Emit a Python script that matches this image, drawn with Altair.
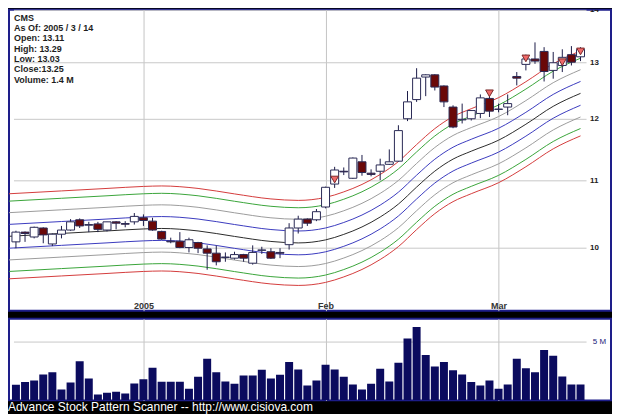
import altair as alt
import pandas as pd

# ---------------- data ----------------
day_index = list(range(63))
opens = [10.09, 10.23, 10.16, 10.29, 10.06, 10.20, 10.26, 10.41, 10.33, 10.35,
         10.26, 10.38, 10.355, 10.38, 10.44, 10.39, 10.24, 10.10, 10.10, 10.01,
         10.08, 9.99, 9.93, 9.87, 9.86, 9.91, 9.79, 9.97, 9.95, 9.94,
         10.05, 10.29, 10.42, 10.41, 10.60, 10.95, 11.15, 11.04, 11.30, 11.12,
         11.15, 11.26, 11.31, 12.01, 12.34, 12.74, 12.78, 12.58, 12.21, 11.99,
         12.01, 12.10, 12.36, 12.17, 12.21, 12.75, 12.97, 13.07, 13.21, 12.86,
         12.95, 13.15, 13.11]
highs = [10.25, 10.24, 10.31, 10.30, 10.21, 10.32, 10.42, 10.43, 10.38, 10.38,
         10.38, 10.39, 10.39, 10.51, 10.49, 10.44, 10.25, 10.15, 10.23, 10.15,
         10.09, 10.04, 10.04, 9.94, 9.95, 9.92, 10.04, 10.02, 10.00, 10.00,
         10.36, 10.47, 10.43, 10.57, 10.91, 11.22, 11.21, 11.37, 11.41, 11.18,
         11.35, 11.50, 11.90, 12.49, 12.90, 12.79, 12.79, 12.59, 12.24, 12.27,
         12.16, 12.43, 12.45, 12.27, 12.43, 12.83, 13.15, 13.38, 13.29, 13.20,
         13.25, 13.31, 13.29]
lows = [10.00, 10.09, 10.14, 10.07, 10.03, 10.14, 10.25, 10.29, 10.23, 10.23,
        10.24, 10.27, 10.30, 10.34, 10.32, 10.25, 10.12, 10.07, 10.00, 9.94,
        9.93, 9.70, 9.76, 9.81, 9.84, 9.81, 9.77, 9.92, 9.85, 9.86,
        9.98, 10.21, 10.32, 10.39, 10.58, 10.89, 11.09, 11.03, 11.08, 11.07,
        11.01, 11.25, 11.30, 11.97, 12.30, 12.40, 12.50, 12.21, 11.85, 11.93,
        11.98, 12.02, 12.04, 12.12, 12.07, 12.59, 12.86, 12.98, 12.66, 12.71,
        12.83, 12.95, 13.03]
closes = [10.23, 10.21, 10.30, 10.19, 10.20, 10.26, 10.38, 10.32, 10.34, 10.27,
          10.38, 10.36, 10.345, 10.46, 10.40, 10.26, 10.13, 10.09, 10.01, 10.12,
          10.00, 9.93, 9.81, 9.875, 9.91, 9.86, 9.94, 9.975, 9.86, 9.93,
          10.29, 10.42, 10.36, 10.53, 10.90, 11.17, 11.14, 11.36, 11.13, 11.10,
          11.25, 11.30, 11.81, 12.30, 12.72, 12.78, 12.56, 12.30, 11.87, 12.00,
          12.15, 12.37, 12.14, 12.175, 12.27, 12.72, 13.07, 13.03, 12.84, 13.00,
          13.10, 13.01, 13.25]
volumes = [1.34, 1.57, 1.71, 2.22, 2.42, 0.94, 1.54, 3.36, 1.88, 0.51,
           0.66, 0.74, 0.60, 1.45, 1.82, 2.79, 1.60, 1.60, 1.60, 1.00,
           2.02, 3.56, 2.42, 1.62, 1.42, 2.14, 2.14, 2.62, 1.88, 2.19,
           3.30, 2.65, 1.28, 1.71, 3.05, 2.65, 2.02, 1.37, 0.94, 1.42,
           2.71, 1.62, 3.22, 5.30, 6.30, 3.90, 2.91, 3.30, 2.59, 2.22,
           1.57, 1.28, 1.71, 1.00, 1.37, 3.56, 2.76, 2.42, 4.33, 3.82,
           2.05, 1.37, 1.37]

signal_idx = [35, 52, 56, 60, 62]
signal_price = [11.02, 12.45, 13.08, 13.01, 13.21]

ma_idx = [-1, 5, 10, 14, 16, 20, 24, 28, 31, 34, 36, 38, 40, 42, 44, 46, 48, 50, 53, 56, 59, 62]
ma_center = [10.168, 10.211, 10.247, 10.276, 10.283, 10.247, 10.168, 10.096, 10.075, 10.118,
             10.197, 10.305, 10.451, 10.644, 10.903, 11.152, 11.343, 11.471, 11.651, 11.917,
             12.223, 12.449]
band_pct = [1.7, 3.4, 5.1, 6.2]
band_names = ["blue", "gray", "green", "red"]
band_colors = ["#3b3bbf", "#9c9c9c", "#3aa53a", "#d43c3c"]

price_ticks = [10, 11, 12, 13, 14]
month_idx = [14, 34, 53]
month_labels = ["2005", "Feb", "Mar"]
vol_ticks = [5]
vol_labels = ["5 M"]

info_lines = ["CMS", "As Of: 2005 / 3 / 14", "Open: 13.11", "High: 13.29",
              "Low: 13.03", "Close:13.25", "Volume: 1.4 M"]
footer = "Advance Stock Pattern Scanner -- http://www.cisiova.com"

# ---------------- tables ----------------
candles = pd.DataFrame({"i": day_index, "open": opens, "high": highs,
                        "low": lows, "close": closes, "volume": volumes})
signals = pd.DataFrame({"i": signal_idx, "p": signal_price})

rows = []
for k, c in zip(ma_idx, ma_center):
    rows.append({"i": k, "v": c, "line": "center"})
    for name, pct in zip(band_names, band_pct):
        rows.append({"i": k, "v": c * (1 + pct / 100), "line": name + "_up"})
        rows.append({"i": k, "v": c / (1 + pct / 100), "line": name + "_dn"})
bands = pd.DataFrame(rows)
line_domain = ["center"] + [n + s for n in band_names for s in ("_up", "_dn")]
line_range = ["#2b2b2b"] + [col for col in band_colors for _ in (0, 1)]

ticks_df = pd.DataFrame({"p": price_ticks})
vol_df = pd.DataFrame({"v": vol_ticks, "t": vol_labels})
info_df = pd.DataFrame({"t": ["\n".join(info_lines)]})

# ---------------- scales / axes ----------------
X_LO, X_HI = -0.215, 64.8
GRID_END = 62.66
LABEL_X = 63.05
xs = alt.Scale(domain=[X_LO, X_HI], nice=False, zero=False)
ys = alt.Scale(type="log", domain=[9.154, 14.014], nice=False)
vs = alt.Scale(domain=[0, 7.01], nice=False, zero=True)

label_expr = " : ".join(
    f"datum.value == {v} ? '{t}'" for v, t in zip(month_idx, month_labels)) + " : ''"
x_axis = alt.Axis(values=month_idx, labelExpr=label_expr, grid=True, gridColor="#c4c4c4",
                  gridWidth=1, ticks=False, tickSize=0, domain=False, title=None,
                  labelPadding=-9, labelFontSize=9, labelFontWeight="bold",
                  labelColor="#333333", labelFont="Liberation Sans")
v_axis = alt.Axis(values=month_idx, grid=True, gridColor="#c4c4c4", gridWidth=1,
                  ticks=False, tickSize=0, domain=False, labels=False, title=None)


def X(field):
    return alt.X(field, type="quantitative", scale=xs, axis=x_axis)


W = 604
base = alt.Chart(candles)

hgrid = alt.Chart(ticks_df).transform_calculate(
    x0=str(X_LO), x1=str(GRID_END)
).mark_rule(color="#c8c8c8", strokeWidth=1).encode(
    x=X("x0"), x2="x1:Q", y=alt.Y("p:Q", scale=ys, axis=None))

ylabels = alt.Chart(ticks_df).transform_calculate(lx=str(LABEL_X)).mark_text(
    align="left", baseline="middle", fontSize=8, fontWeight="bold",
    color="#222222", font="Liberation Sans", clip=True
).encode(x=X("lx"), y=alt.Y("p:Q", scale=ys, axis=None), text="p:Q")

lines = alt.Chart(bands).mark_line(strokeWidth=1, clip=True, interpolate="monotone").encode(
    x=X("i"), y=alt.Y("v:Q", scale=ys, axis=None),
    color=alt.Color("line:N", scale=alt.Scale(domain=line_domain, range=line_range), legend=None),
    order=alt.Order("i:Q"))

wicks = base.mark_rule(color="#1c1c48", strokeWidth=1, clip=True).encode(
    x=X("i"), y=alt.Y("low:Q", scale=ys, axis=None), y2="high:Q")

bodies = base.mark_bar(size=8, stroke="#2a2a55", strokeWidth=1, clip=True).encode(
    x=X("i"), y=alt.Y("open:Q", scale=ys, axis=None), y2="close:Q",
    fill=alt.condition("datum.close >= datum.open", alt.value("white"), alt.value("#6a0808")))

marks = alt.Chart(signals).mark_point(shape="triangle-down", filled=True, size=60,
                                      fill="#f06a6a", stroke="#7a2a2a", strokeWidth=1,
                                      opacity=1).encode(
    x=X("i"), y=alt.Y("p:Q", scale=ys, axis=None))

info = alt.Chart(info_df).mark_text(
    align="left", baseline="top", lineBreak="\n", lineHeight=10.4, fontSize=9,
    fontWeight="bold", color="#1e1e1e", font="Liberation Sans"
).encode(x=alt.value(5), y=alt.value(4), text="t:N")

main = alt.layer(hgrid, lines, wicks, bodies, marks, ylabels, info).properties(
    width=W, height=302)

vbars = base.mark_bar(size=8, color="#0b0b5e", clip=True).encode(
    x=alt.X("i:Q", scale=xs, axis=v_axis),
    y=alt.Y("volume:Q", scale=vs, axis=None))

vgrid = alt.Chart(vol_df).transform_calculate(
    x0=str(X_LO), x1=str(GRID_END)
).mark_rule(color="#c8c8c8", strokeWidth=1).encode(
    x=alt.X("x0:Q", scale=xs, axis=v_axis), x2="x1:Q",
    y=alt.Y("v:Q", scale=vs, axis=None))

vlabel = alt.Chart(vol_df).transform_calculate(lx=str(LABEL_X + 0.3)).mark_text(
    align="left", baseline="middle", fontSize=8, color="#1a1a7a", font="Liberation Sans"
).encode(x=alt.X("lx:Q", scale=xs, axis=v_axis), y=alt.Y("v:Q", scale=vs, axis=None),
         text="t:N")

volume = alt.layer(vgrid, vbars, vlabel).properties(width=W, height=82)

chart = alt.vconcat(main, volume, spacing=6).properties(
    title=alt.Title(footer, orient="bottom", anchor="start", color="white", fontSize=12,
                    font="Liberation Sans", fontWeight="normal", offset=1)
).configure(background="black", padding=0, font="Liberation Sans").configure_view(
    fill="white", stroke="#1e1e8a", strokeWidth=2)

chart.save("out.html", embed_options={"renderer": "svg", "actions": False})
